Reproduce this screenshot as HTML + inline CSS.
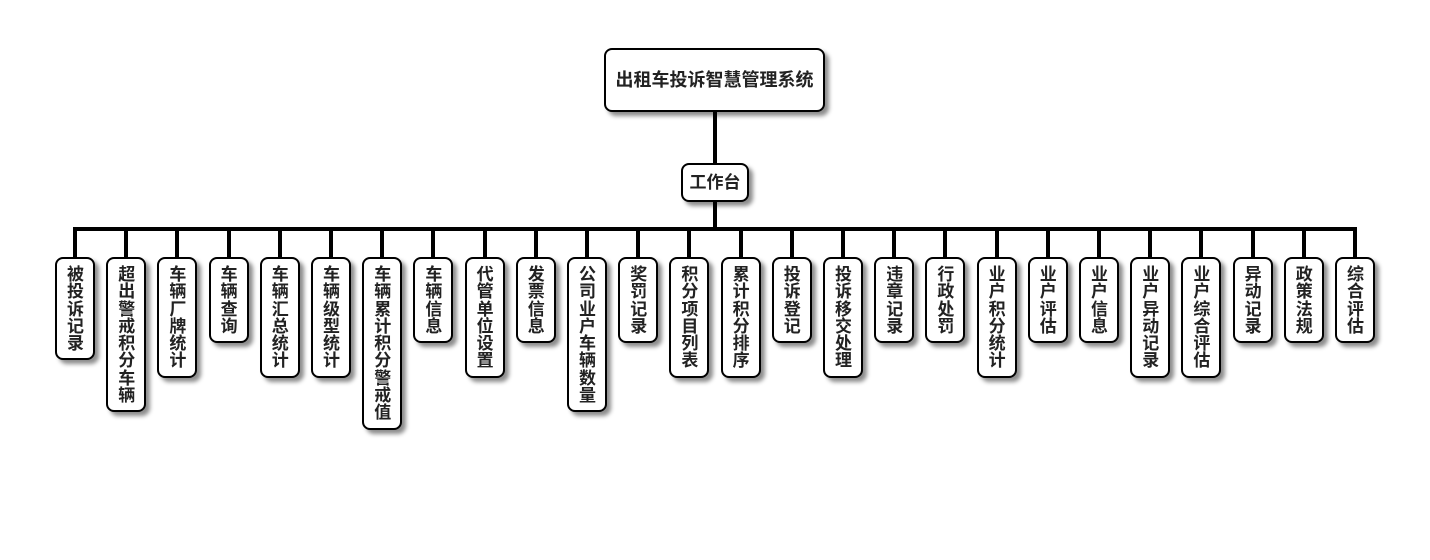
<!DOCTYPE html>
<html><head><meta charset="utf-8"><style>
html,body{margin:0;padding:0;background:#fff;}
body{width:1430px;height:560px;position:relative;overflow:hidden;font-family:"Liberation Sans","Noto Sans CJK SC",sans-serif;font-weight:bold;color:#222;}
.ln{position:absolute;background:#000;}
.bx{position:absolute;background:#fff;border:2px solid #000;border-radius:8px;box-shadow:4px 4px 4px rgba(0,0,0,0.45);box-sizing:border-box;}
.c{width:40px;top:257px;padding:7px 10px 6px 10px;font-size:17px;line-height:17.3px;text-align:center;word-break:break-all;}
</style></head><body>
<div class="bx" style="left:604px;top:48px;width:221px;height:64px;font-size:18px;line-height:60px;text-align:center;">出租车投诉智慧管理系统</div>
<div class="ln" style="left:713px;top:112px;width:4px;height:52px;"></div>
<div class="bx" style="left:681px;top:163px;width:68px;height:39px;font-size:17px;line-height:35px;text-align:center;">工作台</div>
<div class="ln" style="left:713px;top:202px;width:4px;height:28px;"></div>
<div class="ln" style="left:73px;top:227px;width:1284px;height:4px;"></div>
<div class="ln" style="left:73px;top:227px;width:4px;height:31px;"></div>
<div class="ln" style="left:124.2px;top:227px;width:4px;height:31px;"></div>
<div class="ln" style="left:175.4px;top:227px;width:4px;height:31px;"></div>
<div class="ln" style="left:226.6px;top:227px;width:4px;height:31px;"></div>
<div class="ln" style="left:277.8px;top:227px;width:4px;height:31px;"></div>
<div class="ln" style="left:329px;top:227px;width:4px;height:31px;"></div>
<div class="ln" style="left:380.2px;top:227px;width:4px;height:31px;"></div>
<div class="ln" style="left:431.4px;top:227px;width:4px;height:31px;"></div>
<div class="ln" style="left:482.6px;top:227px;width:4px;height:31px;"></div>
<div class="ln" style="left:533.8px;top:227px;width:4px;height:31px;"></div>
<div class="ln" style="left:585px;top:227px;width:4px;height:31px;"></div>
<div class="ln" style="left:636.2px;top:227px;width:4px;height:31px;"></div>
<div class="ln" style="left:687.4px;top:227px;width:4px;height:31px;"></div>
<div class="ln" style="left:738.6px;top:227px;width:4px;height:31px;"></div>
<div class="ln" style="left:789.8px;top:227px;width:4px;height:31px;"></div>
<div class="ln" style="left:841px;top:227px;width:4px;height:31px;"></div>
<div class="ln" style="left:892.2px;top:227px;width:4px;height:31px;"></div>
<div class="ln" style="left:943.4px;top:227px;width:4px;height:31px;"></div>
<div class="ln" style="left:994.6px;top:227px;width:4px;height:31px;"></div>
<div class="ln" style="left:1045.8px;top:227px;width:4px;height:31px;"></div>
<div class="ln" style="left:1097px;top:227px;width:4px;height:31px;"></div>
<div class="ln" style="left:1148.2px;top:227px;width:4px;height:31px;"></div>
<div class="ln" style="left:1199.4px;top:227px;width:4px;height:31px;"></div>
<div class="ln" style="left:1250.6px;top:227px;width:4px;height:31px;"></div>
<div class="ln" style="left:1301.8px;top:227px;width:4px;height:31px;"></div>
<div class="ln" style="left:1353px;top:227px;width:4px;height:31px;"></div>
<div class="bx c" style="left:55px;">被投诉记录</div>
<div class="bx c" style="left:106.2px;">超出警戒积分车辆</div>
<div class="bx c" style="left:157.4px;">车辆厂牌统计</div>
<div class="bx c" style="left:208.6px;">车辆查询</div>
<div class="bx c" style="left:259.8px;">车辆汇总统计</div>
<div class="bx c" style="left:311px;">车辆级型统计</div>
<div class="bx c" style="left:362.2px;">车辆累计积分警戒值</div>
<div class="bx c" style="left:413.4px;">车辆信息</div>
<div class="bx c" style="left:464.6px;">代管单位设置</div>
<div class="bx c" style="left:515.8px;">发票信息</div>
<div class="bx c" style="left:567px;">公司业户车辆数量</div>
<div class="bx c" style="left:618.2px;">奖罚记录</div>
<div class="bx c" style="left:669.4px;">积分项目列表</div>
<div class="bx c" style="left:720.6px;">累计积分排序</div>
<div class="bx c" style="left:771.8px;">投诉登记</div>
<div class="bx c" style="left:823px;">投诉移交处理</div>
<div class="bx c" style="left:874.2px;">违章记录</div>
<div class="bx c" style="left:925.4px;">行政处罚</div>
<div class="bx c" style="left:976.6px;">业户积分统计</div>
<div class="bx c" style="left:1027.8px;">业户评估</div>
<div class="bx c" style="left:1079px;">业户信息</div>
<div class="bx c" style="left:1130.2px;">业户异动记录</div>
<div class="bx c" style="left:1181.4px;">业户综合评估</div>
<div class="bx c" style="left:1232.6px;">异动记录</div>
<div class="bx c" style="left:1283.8px;">政策法规</div>
<div class="bx c" style="left:1335px;">综合评估</div>
</body></html>
